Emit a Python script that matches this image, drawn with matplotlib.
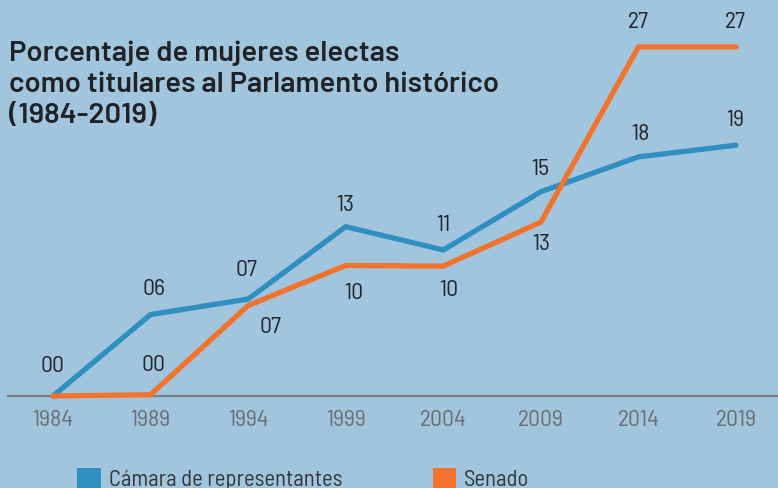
import matplotlib
matplotlib.use('Agg')
import matplotlib.pyplot as plt
from matplotlib.patches import Patch

years = [1984, 1989, 1994, 1999, 2004, 2009, 2014, 2019]
camara = [0, 6.3, 7.5, 13.1, 11.3, 15.8, 18.5, 19.4]
senado = [0, 0.1, 7.0, 10.1, 10.05, 13.45, 27, 27]
camara_lbl = ['00', '06', '07', '13', '11', '15', '18', '19']
senado_lbl = ['', '00', '07', '10', '10', '13', '27', '27']

title = 'Porcentaje de mujeres electas\ncomo titulares al Parlamento histórico\n(1984-2019)'

bg = '#a2c5de'
blue = '#2f8fc0'
orange = '#f3722c'
narrow = ['Barlow Semi Condensed', 'Barlow Condensed', 'IBM Plex Sans Condensed', 'DejaVu Sans']
wide = ['Barlow', 'Lato', 'DejaVu Sans']

W, H = 778, 488
fig = plt.figure(figsize=(W / 100, H / 100), dpi=100, facecolor=bg)
ax = fig.add_axes([0, 0, 1, 1])
ax.set_facecolor(bg)
ax.axis('off')

# pixel -> data mapping: 1984 at x=53, 2019 at x=736; y=0 at 396, 27 at 47
pxy = (736 - 53) / 35.0
pyy = (396 - 47) / 27.0
ax.set_xlim(1984 - 53 / pxy, 1984 + (W - 53) / pxy)
ax.set_ylim(-(H - 396) / pyy, 396 / pyy)

ax.axhline(0, xmin=8 / W, xmax=1, color='#7b7f85', lw=1.6, zorder=1)

ax.plot(years, camara, color=blue, lw=3.8, solid_capstyle='round', solid_joinstyle='miter', zorder=3)
ax.plot(years, senado, color=orange, lw=3.8, solid_capstyle='round', solid_joinstyle='miter', zorder=4)

for x in years:
    ax.text(x, -24 / pyy, str(x), ha='center', va='center', fontsize=17,
            color='#6b6e73', family=narrow)

# label offsets in pixels (dx, dy) relative to the point
cam_off = [(0, 29), (3, 25), (-2, 29), (0, 21), (0, 24), (-1, 22), (2, 22), (-1, 25)]
sen_off = [(0, 0), (3, 29), (22, -22), (8, -28), (6, -24), (0, -22), (0, 25), (-1, 25)]

for x, y, s, (dx, dy) in zip(years, camara, camara_lbl, cam_off):
    ax.annotate(s, (x, y), xytext=(dx * 0.72, dy * 0.72), textcoords='offset points',
                ha='center', va='center', fontsize=17, color='#23272b', family=narrow)
for x, y, s, (dx, dy) in zip(years, senado, senado_lbl, sen_off):
    if s:
        ax.annotate(s, (x, y), xytext=(dx * 0.72, dy * 0.72), textcoords='offset points',
                    ha='center', va='center', fontsize=17, color='#23272b', family=narrow)

fig.text(9 / W, 1 - 41 / H, title, ha='left', va='top', fontsize=21, fontweight='semibold',
         color='#1f2326', family=wide, linespacing=1.3)

handles = [Patch(facecolor=blue, edgecolor='none', label='Cámara de representantes'),
           Patch(facecolor=orange, edgecolor='none', label='Senado')]
fig.legend(handles=handles, loc='upper left', bbox_to_anchor=(77 / W, 1 - 468 / H), ncol=2,
           frameon=False, borderpad=0, borderaxespad=0, handlelength=1.05, handleheight=1.05,
           handletextpad=0.35, columnspacing=4.0,
           prop={'family': narrow, 'size': 16.3}, labelcolor='#33373b')

fig.savefig('out.png', dpi=100, facecolor=bg)
